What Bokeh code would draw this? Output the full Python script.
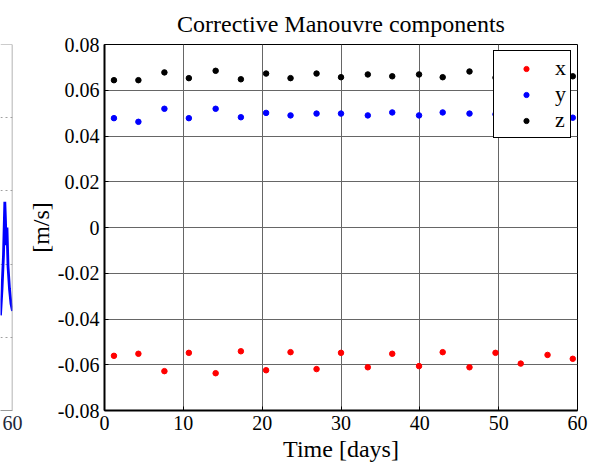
from bokeh.plotting import figure
from bokeh.layouts import row
from bokeh.models import Range1d, FixedTicker, Span, ColumnDataSource
from bokeh.embed import file_html
from bokeh.resources import INLINE

# ---------------- data ----------------
days = [1.2, 4.3, 7.6, 10.7, 14.1, 17.3, 20.5, 23.6, 26.9, 30.0,
        33.4, 36.5, 39.9, 42.9, 46.3, 49.6, 52.8, 56.2, 59.4]
vx = [-0.0561, -0.0552, -0.0628, -0.0548, -0.0637, -0.0541, -0.0624, -0.0545, -0.0619, -0.0548,
      -0.0611, -0.0552, -0.0606, -0.0545, -0.0611, -0.0548, -0.0595, -0.0557, -0.0574]
vy = [0.0478, 0.0462, 0.0519, 0.0478, 0.0519, 0.0482, 0.0501, 0.0490, 0.0498, 0.0498,
      0.0490, 0.0503, 0.0490, 0.0503, 0.0498, 0.0495, 0.0500, 0.0492, 0.0480]
vz = [0.0644, 0.0644, 0.0678, 0.0653, 0.0685, 0.0648, 0.0673, 0.0653, 0.0673, 0.0657,
      0.0669, 0.0661, 0.0669, 0.0657, 0.0682, 0.0655, 0.0670, 0.0660, 0.0661]

x_ticks = [0, 10, 20, 30, 40, 50, 60]
x_tick_labels = ["0", "10", "20", "30", "40", "50", "60"]
y_ticks = [-0.08, -0.06, -0.04, -0.02, 0.0, 0.02, 0.04, 0.06, 0.08]
y_tick_labels = ["-0.08", "-0.06", "-0.04", "-0.02", "0", "0.02", "0.04", "0.06", "0.08"]

# partially visible neighbouring panel (only its right edge is shown)
left_t = [58.5, 58.69, 58.875, 59.04, 59.125, 59.19, 59.31, 59.44, 59.625, 59.81, 60.0]
left_v = [1.30, 1.66, 2.13, 2.85, 2.59, 2.26, 2.50, 1.97, 1.66, 1.46, 1.36]
left_x_ticks = [60]
left_y_ticks = [1, 2, 3, 4]
left_x_range = (58.5, 60)
left_y_range = (0, 5)

FONT = "Liberation Serif"

# ---------------- left (cut-off) panel ----------------
p1 = figure(width=24, height=467, x_range=Range1d(*left_x_range), y_range=Range1d(*left_y_range),
            min_border_left=0, min_border_right=12, min_border_top=33, min_border_bottom=57,
            output_backend="svg", toolbar_location=None, y_axis_location=None)
p1.outline_line_color = None
p1.background_fill_color = "white"
p1.border_fill_color = "white"
p1.xaxis.ticker = FixedTicker(ticks=left_x_ticks)
p1.xaxis.major_tick_in = 0
p1.xaxis.major_tick_out = 0
p1.xaxis.minor_tick_line_color = None
p1.xaxis.axis_line_color = "#9a9a9a"
p1.xaxis.major_label_text_font = FONT
p1.xaxis.major_label_text_font_size = "20px"
p1.xaxis.major_label_text_color = "#1e2838"
p1.xaxis.major_label_standoff = 5
p1.xgrid.visible = False
p1.ygrid.ticker = FixedTicker(ticks=left_y_ticks)
p1.ygrid.grid_line_color = "#a0a0a0"
p1.ygrid.grid_line_dash = "2 3"

# top and right edges of the cut-off panel's box
p1.add_layout(Span(location=left_y_range[1], dimension="width", line_color="#9a9a9a", line_width=1))
p1.add_layout(Span(location=left_x_range[1], dimension="height", line_color="#9a9a9a", line_width=1.5))
p1.line(left_t, left_v, line_color="#0000ff", line_width=2.8)

# ---------------- main panel ----------------
p2 = figure(width=577, height=467, x_range=Range1d(0, 60), y_range=Range1d(-0.08, 0.08),
            min_border_left=79, min_border_right=24, min_border_top=44, min_border_bottom=57,
            output_backend="svg", toolbar_location=None)
p2.background_fill_color = "white"
p2.border_fill_color = "white"
p2.outline_line_color = "black"
p2.outline_line_width = 1
p2.outline_line_alpha = 1

p2.title.text = "Corrective Manouvre components"
p2.title.align = "center"
p2.title.text_font = FONT
p2.title.text_font_size = "24px"
p2.title.text_font_style = "normal"
p2.title.text_color = "black"
p2.title.standoff = 16

p2.xaxis.ticker = FixedTicker(ticks=x_ticks)
p2.xaxis.major_label_overrides = {t: s for t, s in zip(x_ticks, x_tick_labels)}
p2.yaxis.ticker = FixedTicker(ticks=y_ticks)
p2.yaxis.major_label_overrides = {t: s for t, s in zip(y_ticks, y_tick_labels)}
for ax in (p2.xaxis, p2.yaxis):
    ax.major_tick_in = 4
    ax.major_tick_out = 0
    ax.minor_tick_line_color = None
    ax.axis_line_width = 2
    ax.axis_line_color = "black"
    ax.major_tick_line_color = "black"
    ax.major_label_text_font = FONT
    ax.major_label_text_font_size = "20px"
    ax.major_label_text_color = "black"
    ax.major_label_standoff = 5
    ax.axis_label_text_font = FONT
    ax.axis_label_text_font_size = "24px"
    ax.axis_label_text_font_style = "normal"
    ax.axis_label_text_color = "black"
p2.xaxis.axis_label = "Time [days]"
p2.yaxis.axis_label = "[m/s]"
p2.xaxis.axis_label_standoff = 3
p2.yaxis.axis_label_standoff = 1

p2.grid.grid_line_color = "#666666"
p2.grid.grid_line_width = 1

src = ColumnDataSource(dict(t=days, x=vx, y=vy, z=vz))
p2.scatter("t", "x", source=src, size=5.5, color="#ff0000", legend_label="x")
p2.scatter("t", "y", source=src, size=5.5, color="#0000ff", legend_label="y")
p2.scatter("t", "z", source=src, size=5.5, color="#000000", legend_label="z")

lg = p2.legend[0]
lg.location = "top_right"
lg.margin = 6
lg.border_line_color = "black"
lg.border_line_width = 1
lg.border_line_alpha = 1
lg.background_fill_color = "white"
lg.background_fill_alpha = 1
lg.label_text_font = FONT
lg.label_text_font_size = "22px"
lg.label_text_color = "black"
lg.padding = 4
lg.spacing = 0
lg.glyph_width = 56
lg.glyph_height = 13
lg.label_height = 26
lg.label_width = 10
lg.label_standoff = 1

layout = row(p1, p2)
open("out.html", "w").write(file_html(layout, INLINE))
